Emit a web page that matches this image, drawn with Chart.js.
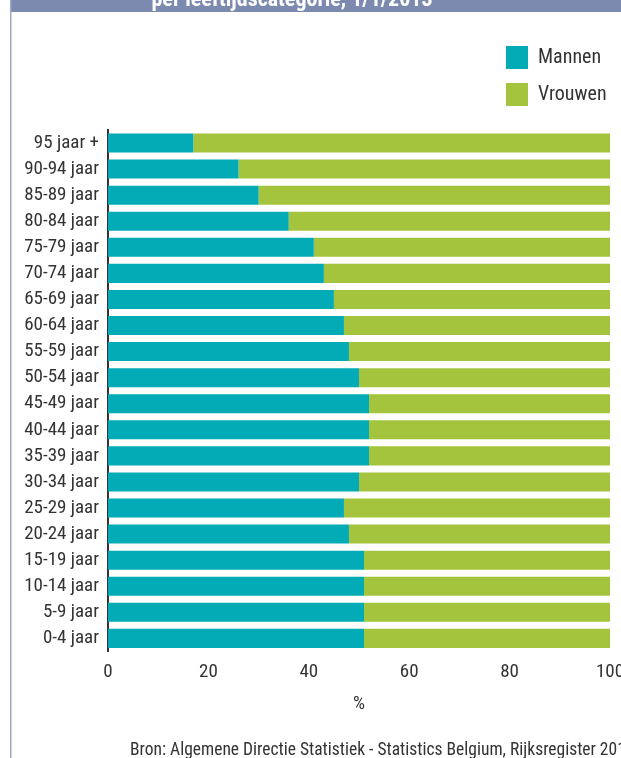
<!DOCTYPE html>
<html>
<head>
<meta charset="utf-8">
<script src="https://cdn.jsdelivr.net/npm/chart.js@4.4.0/dist/chart.umd.min.js"></script>
<style>
  html, body { margin: 0; padding: 0; overflow: hidden; background: #fff; }
  #wrap { width: 640px; height: 758px; position: relative; }
</style>
</head>
<body>
<div id="wrap"><canvas id="leeftijdChart"></canvas></div>
<script>
const ctx = document.getElementById('leeftijdChart').getContext('2d');

const categories = ['95 jaar +', '90-94 jaar', '85-89 jaar', '80-84 jaar', '75-79 jaar',
    '70-74 jaar', '65-69 jaar', '60-64 jaar', '55-59 jaar', '50-54 jaar',
    '45-49 jaar', '40-44 jaar', '35-39 jaar', '30-34 jaar', '25-29 jaar',
    '20-24 jaar', '15-19 jaar', '10-14 jaar', '5-9 jaar', '0-4 jaar'];

const mannen = [17, 26, 30, 36, 41, 43, 45, 47, 48, 50, 52, 52, 52, 50, 47, 48, 51, 51, 51, 51];
const vrouwen = [83, 74, 70, 64, 59, 57, 55, 53, 52, 50, 48, 48, 48, 50, 53, 52, 49, 49, 49, 49];

const xTicks = [0, 20, 40, 60, 80, 100];

const titleText = 'per leeftijdscategorie, 1/1/2013';
const sourceText = 'Bron: Algemene Directie Statistiek - Statistics Belgium, Rijksregister 2013';

const fontFamily = 'Roboto, "Liberation Sans", sans-serif';
const stretch = 'normal condensed';

// frame, header band and source line
const frame = {
    id: 'frame',
    beforeDraw(chart) {
        const c = chart.ctx;
        c.save();
        c.fillStyle = '#ffffff';
        c.fillRect(0, 0, chart.width, chart.height);
        c.fillStyle = '#7b8aae';
        c.fillRect(10, 0, chart.width - 10, 12);
        c.fillStyle = '#ffffff';
        c.font = 'bold condensed 22px ' + fontFamily;
        c.textAlign = 'center';
        c.textBaseline = 'alphabetic';
        c.fillText(titleText, 292, 6);
        c.fillStyle = '#9aa8c8';
        c.fillRect(10, 0, 1.5, chart.height);
        c.restore();
    },
    afterDraw(chart) {
        const c = chart.ctx;
        c.save();
        c.fillStyle = '#333333';
        c.font = 'normal condensed 17.5px ' + fontFamily;
        c.textAlign = 'left';
        c.textBaseline = 'middle';
        c.fillText(sourceText, 130, 751);
        c.restore();
    }
};

// put the legend box in the top right corner, above the bars
const legendSpot = {
    id: 'legendSpot',
    afterLayout(chart) {
        const l = chart.legend;
        l.left = 492;
        l.right = 640;
        l.top = 32;
        l.bottom = 128;
        l.width = l.right - l.left;
        l.height = l.bottom - l.top;
    }
};

const config = {
    type: 'bar',
    data: {
        labels: categories,
        datasets: [{
            label: 'Mannen',
            data: mannen,
            backgroundColor: '#02abb5',
            barPercentage: 0.73,
            categoryPercentage: 1
        }, {
            label: 'Vrouwen',
            data: vrouwen,
            backgroundColor: '#a3c43c',
            barPercentage: 0.73,
            categoryPercentage: 1
        }]
    },
    options: {
        indexAxis: 'y',
        responsive: true,
        maintainAspectRatio: false,
        animation: false,
        layout: {
            padding: { left: 10, right: 30, top: 130, bottom: 42 }
        },
        plugins: {
            tooltip: { enabled: false },
            legend: {
                position: 'chartArea',
                align: 'start',
                labels: {
                    boxWidth: 22,
                    boxHeight: 23,
                    padding: 14,
                    color: '#333333',
                    font: { family: fontFamily, size: 20, weight: stretch }
                }
            }
        },
        scales: {
            x: {
                stacked: true,
                min: 0,
                max: 100,
                afterBuildTicks: (scale) => {
                    scale.ticks = xTicks.map(v => ({ value: v }));
                },
                grid: { display: false },
                border: { display: false },
                ticks: {
                    color: '#333333',
                    padding: 1,
                    font: { family: fontFamily, size: 19, weight: stretch }
                },
                title: {
                    display: true,
                    text: '%',
                    color: '#333333',
                    padding: { top: 9, bottom: 0 },
                    font: { family: fontFamily, size: 19, weight: stretch }
                }
            },
            y: {
                stacked: true,
                afterFit: (scale) => {
                    scale.width = 98;
                },
                grid: { display: false },
                border: { display: true, color: '#333333', width: 2 },
                ticks: {
                    color: '#333333',
                    padding: 1,
                    autoSkip: false,
                    font: { family: fontFamily, size: 19, weight: stretch }
                }
            }
        }
    },
    plugins: [frame, legendSpot]
};

new Chart(ctx, config);
</script>
</body>
</html>
